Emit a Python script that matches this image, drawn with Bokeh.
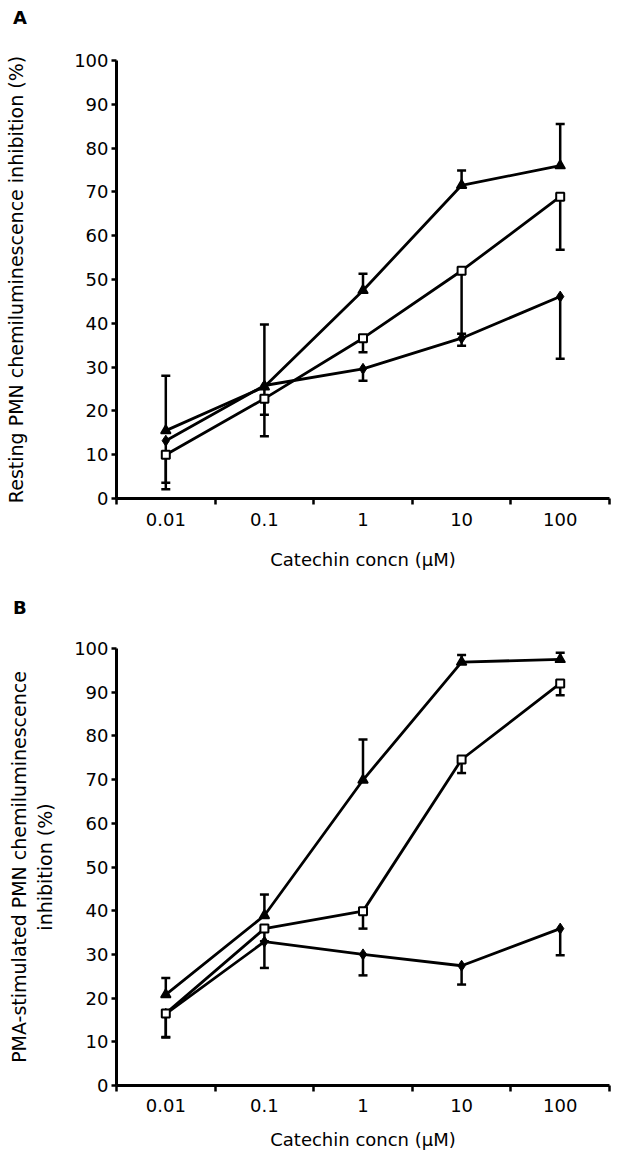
from bokeh.plotting import figure
from bokeh.layouts import column
from bokeh.models import ColumnDataSource, Whisker, TeeHead, FixedTicker, Range1d, Div
from bokeh.embed import file_html
from bokeh.resources import INLINE

concentrations = ["0.01", "0.1", "1", "10", "100"]

# Panel A: resting PMN
a_triangle = [15.5, 25.5, 47.5, 71.5, 76.0]
a_triangle_hi = [28.0, 39.7, 51.3, 74.9, 85.5]
a_square = [10.0, 22.8, 36.6, 52.0, 68.9]
a_square_lo = [3.6, 19.1, 33.4, 37.6, 56.8]
a_diamond = [13.2, 25.8, 29.6, 36.6, 46.1]
a_diamond_lo = [2.1, 14.2, 26.9, 34.9, 31.9]

# Panel B: PMA-stimulated PMN
b_triangle = [20.8, 38.9, 69.9, 96.9, 97.5]
b_triangle_hi = [24.6, 43.7, 79.2, 98.5, 99.0]
b_square = [16.5, 35.9, 39.9, 74.6, 92.0]
b_square_lo = [11.1, 33.0, 35.9, 71.5, 89.3]
b_diamond = [16.4, 32.9, 30.0, 27.4, 35.9]
b_diamond_lo = [11.0, 26.9, 25.2, 23.1, 29.8]

FONT = "DejaVu Sans"
FS = "18px"
YFS = "19px"
W = 616
xs = [i + 0.5 for i in range(len(concentrations))]


def letter_div(letter, height, pad_top):
    html = ("<div style=\"font-family:'DejaVu Sans';font-size:18px;font-weight:bold;"
            "line-height:20px;padding-top:%dpx;padding-left:13px;color:black;\">%s</div>" % (pad_top, letter))
    return Div(text=html, width=W, height=height, margin=(0, 0, 0, 0))


def make_panel(ylabel, tri, tri_hi, sq, sq_lo, di, di_lo, left, top, bottom, right, height,
               standoff, xl_standoff, xt_standoff):
    p = figure(width=W, height=height, output_backend="svg", toolbar_location=None,
               x_range=Range1d(0, len(concentrations)), y_range=Range1d(0, 100),
               min_border_left=left, min_border_right=right, min_border_top=top,
               min_border_bottom=bottom)
    p.outline_line_color = None
    p.grid.visible = False
    p.background_fill_color = "white"
    p.border_fill_color = "white"

    xa = p.xaxis[0]
    xa.ticker = FixedTicker(ticks=xs, minor_ticks=list(range(len(concentrations) + 1)))
    xa.major_label_overrides = {x: c for x, c in zip(xs, concentrations)}
    xa.major_tick_line_color = None
    xa.major_tick_out = 6
    xa.major_tick_in = 0
    xa.minor_tick_out = 6
    xa.minor_tick_in = 0
    xa.minor_tick_line_width = 2.5
    xa.minor_tick_line_color = "black"
    xa.axis_line_width = 3
    xa.axis_line_color = "black"
    xa.major_label_standoff = xl_standoff
    xa.axis_label = "Catechin concn (\u03bcM)"
    xa.axis_label_standoff = xt_standoff
    xa.axis_label_text_font_size = FS

    ya = p.yaxis[0]
    ya.ticker = FixedTicker(ticks=list(range(0, 101, 10)))
    ya.minor_tick_line_color = None
    ya.major_tick_out = 5
    ya.major_tick_in = 0
    ya.major_tick_line_width = 2.5
    ya.major_tick_line_color = "black"
    ya.axis_line_width = 3
    ya.axis_line_color = "black"
    ya.major_label_standoff = 3
    ya.axis_label = ylabel
    ya.axis_label_standoff = standoff
    ya.axis_label_text_font_size = YFS

    for ax in (xa, ya):
        ax.major_label_text_font = FONT
        ax.major_label_text_font_size = FS
        ax.major_label_text_color = "black"
        ax.axis_label_text_font = FONT
        ax.axis_label_text_font_style = "normal"
        ax.axis_label_text_color = "black"

    src = ColumnDataSource(dict(x=xs, tri=tri, tri_hi=tri_hi, sq=sq, sq_lo=sq_lo, di=di, di_lo=di_lo))

    for lo, hi in (("tri", "tri_hi"), ("sq_lo", "sq"), ("di_lo", "di")):
        up = TeeHead(size=9, line_width=2.5, line_color="black")
        dn = TeeHead(size=9, line_width=2.5, line_color="black")
        if lo == "tri":
            w = Whisker(source=src, base="x", lower=lo, upper=hi, upper_head=up, lower_head=None,
                        line_width=2.5, line_color="black")
        else:
            w = Whisker(source=src, base="x", lower=lo, upper=hi, lower_head=dn, upper_head=None,
                        line_width=2.5, line_color="black")
        p.add_layout(w)

    p.line("x", "di", source=src, line_width=2.8, line_color="black")
    p.line("x", "sq", source=src, line_width=2.8, line_color="black")
    p.line("x", "tri", source=src, line_width=2.8, line_color="black")

    p.scatter("x", "di", source=src, marker="diamond", size=11, fill_color="black", line_color="black")
    p.scatter("x", "tri", source=src, marker="triangle", size=10, fill_color="black", line_color="black",
              line_width=1.5)
    p.scatter("x", "sq", source=src, marker="square", size=8, fill_color="white", line_color="black",
              line_width=2)
    return p


divA = letter_div("A", 30, 8)
pA = make_panel("Resting PMN chemiluminescence inhibition (%)",
                a_triangle, a_triangle_hi, a_square, a_square_lo, a_diamond, a_diamond_lo,
                left=114, top=30, bottom=87, right=7, height=555, standoff=44,
                xl_standoff=8, xt_standoff=20)
divB = letter_div("B", 40, 13)
pB = make_panel("PMA-stimulated PMN chemiluminescence\ninhibition (%)",
                b_triangle, b_triangle_hi, b_square, b_square_lo, b_diamond, b_diamond_lo,
                left=116, top=23, bottom=70, right=5, height=530, standoff=15,
                xl_standoff=7, xt_standoff=14)

layout = column(divA, pA, divB, pB, spacing=0)
open("out.html", "w").write(file_html(layout, INLINE))
